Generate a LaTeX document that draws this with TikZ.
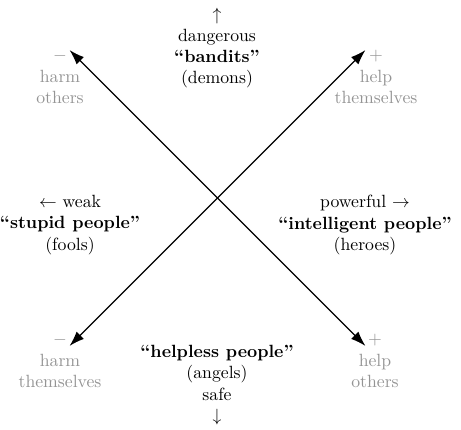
\documentclass[tikz,border=0pt]{standalone}
\usetikzlibrary{arrows.meta}
\begin{document}
\begin{tikzpicture}[x=0.565pt,y=-0.565pt,
  lbl/.style={align=center,inner sep=0pt,text=black},
  side/.style={align=center,inner sep=0pt,text=black!42},
  axis/.style={line width=0.75pt,-{Latex[length=8.5pt,width=5.8pt]}}]
\useasboundingbox (0,0) rectangle (461,430);
\coordinate (c) at (217.5,198);
\coordinate (tl) at (69.5,50);
\coordinate (tr) at (365.5,50);
\coordinate (bl) at (69.5,346);
\coordinate (br) at (365.5,346);
\draw[axis] (c) -- (tl);
\draw[axis] (c) -- (tr);
\draw[axis] (c) -- (bl);
\draw[axis] (c) -- (br);
\node[lbl] (top) at (217,48) {$\uparrow$\\dangerous\\\textbf{``bandits''}\\(demons)};
\node[lbl] (bot) at (217,385) {\textbf{``helpless people''}\\(angels)\\safe\\$\downarrow$};
\node[lbl] (left) at (70,225) {$\leftarrow$ weak\\\textbf{``stupid people''}\\(fools)};
\node[lbl] (right) at (365,225) {powerful $\rightarrow$\\\textbf{``intelligent people''}\\(heroes)};
\node[side] (ho) at (60,77) {$-$\\harm\\others};
\node[side] (hs) at (376,77) {$+$\\help\\themselves};
\node[side] (hts) at (60,361) {$-$\\harm\\themselves};
\node[side] (hpo) at (375,361) {$+$\\help\\others};
\end{tikzpicture}
\end{document}
